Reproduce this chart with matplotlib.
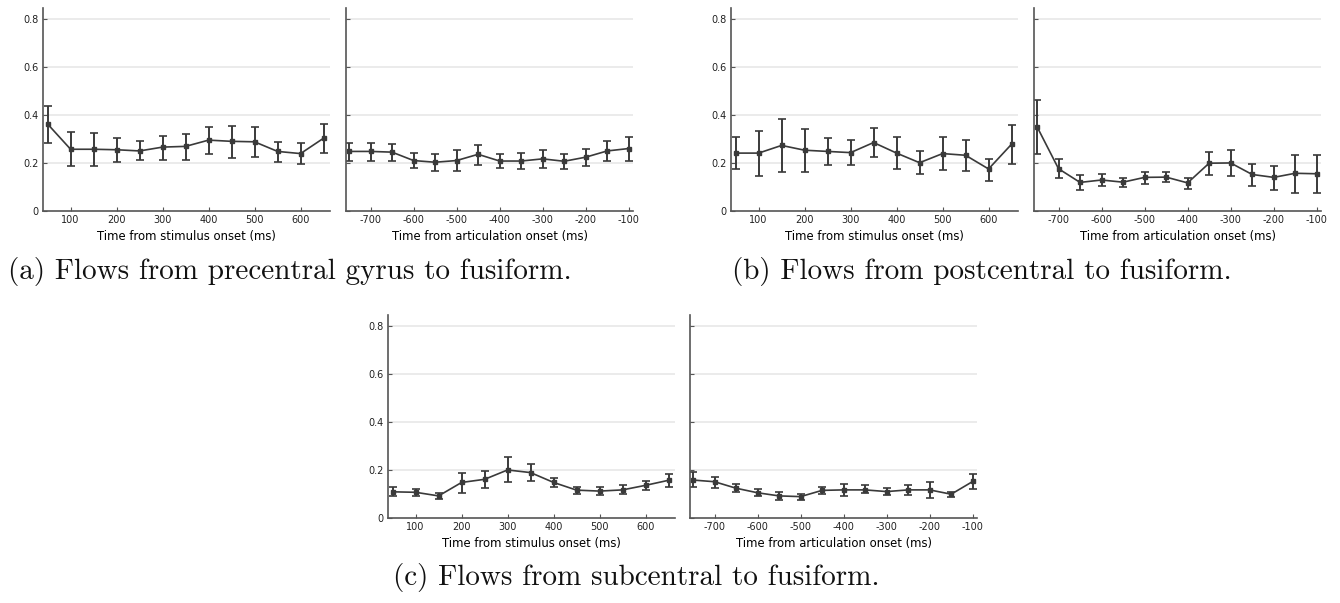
import matplotlib
matplotlib.use("Agg")
import matplotlib.pyplot as plt
import numpy as np

# x positions (ms)
stim_t = [50, 100, 150, 200, 250, 300, 350, 400, 450, 500, 550, 600, 650]
artic_t = [-750, -700, -650, -600, -550, -500, -450, -400, -350, -300, -250, -200, -150, -100]

# (a) precentral gyrus -> fusiform
a_stim = [0.362, 0.257, 0.257, 0.255, 0.250, 0.266, 0.269, 0.295, 0.290, 0.288, 0.248, 0.239, 0.303]
a_stim_hi = [0.436, 0.329, 0.324, 0.305, 0.290, 0.313, 0.319, 0.351, 0.355, 0.350, 0.287, 0.281, 0.364]
a_stim_lo = [0.283, 0.187, 0.189, 0.206, 0.213, 0.214, 0.213, 0.236, 0.222, 0.224, 0.204, 0.196, 0.243]
a_artic = [0.248, 0.248, 0.245, 0.210, 0.203, 0.210, 0.236, 0.208, 0.208, 0.217, 0.207, 0.224, 0.250, 0.260]
a_artic_hi = [0.285, 0.283, 0.278, 0.241, 0.238, 0.252, 0.276, 0.236, 0.241, 0.252, 0.238, 0.256, 0.290, 0.308]
a_artic_lo = [0.207, 0.208, 0.207, 0.179, 0.166, 0.166, 0.193, 0.180, 0.176, 0.180, 0.173, 0.189, 0.207, 0.207]

# (b) postcentral -> fusiform
b_stim = [0.241, 0.241, 0.273, 0.253, 0.248, 0.243, 0.285, 0.241, 0.201, 0.239, 0.232, 0.175, 0.278]
b_stim_hi = [0.309, 0.333, 0.383, 0.341, 0.303, 0.295, 0.345, 0.306, 0.249, 0.308, 0.295, 0.218, 0.357]
b_stim_lo = [0.175, 0.147, 0.161, 0.161, 0.190, 0.190, 0.224, 0.175, 0.154, 0.171, 0.165, 0.124, 0.196]
b_artic = [0.351, 0.176, 0.119, 0.129, 0.120, 0.140, 0.141, 0.117, 0.199, 0.200, 0.152, 0.140, 0.157, 0.155]
b_artic_hi = [0.464, 0.217, 0.151, 0.155, 0.138, 0.164, 0.161, 0.138, 0.246, 0.253, 0.197, 0.189, 0.232, 0.232]
b_artic_lo = [0.238, 0.136, 0.088, 0.103, 0.099, 0.113, 0.120, 0.091, 0.148, 0.147, 0.106, 0.087, 0.077, 0.076]

# (c) subcentral -> fusiform
c_stim = [0.109, 0.107, 0.092, 0.148, 0.161, 0.200, 0.189, 0.148, 0.116, 0.112, 0.117, 0.136, 0.157]
c_stim_hi = [0.128, 0.122, 0.103, 0.189, 0.194, 0.252, 0.224, 0.168, 0.131, 0.128, 0.136, 0.155, 0.185]
c_stim_lo = [0.092, 0.092, 0.081, 0.106, 0.126, 0.148, 0.152, 0.129, 0.098, 0.096, 0.099, 0.116, 0.131]
c_artic = [0.158, 0.151, 0.124, 0.105, 0.092, 0.089, 0.115, 0.117, 0.117, 0.110, 0.117, 0.117, 0.099, 0.152]
c_artic_hi = [0.190, 0.170, 0.140, 0.119, 0.109, 0.101, 0.131, 0.140, 0.136, 0.126, 0.138, 0.148, 0.110, 0.182]
c_artic_lo = [0.128, 0.126, 0.110, 0.092, 0.075, 0.074, 0.098, 0.093, 0.102, 0.095, 0.096, 0.082, 0.087, 0.122]

captions = ["(a) Flows from precentral gyrus to fusiform.",
            "(b) Flows from postcentral to fusiform.",
            "(c) Flows from subcentral to fusiform."]

stim_ticks = [100, 200, 300, 400, 500, 600]
artic_ticks = [-700, -600, -500, -400, -300, -200, -100]
y_ticks = [0, 0.2, 0.4, 0.6, 0.8]
y_labels = ["0", "0.2", "0.4", "0.6", "0.8"]

W, H = 1340, 603
fig = plt.figure(figsize=(W / 100, H / 100), dpi=100)

line_col = "#3a3a3a"
axw = 287 / W
axh = 203 / H


def panel(left_px, bottom_px, t, y, hi, lo, stim):
	ax = fig.add_axes([left_px / W, 1 - bottom_px / H, axw, axh])
	y = np.array(y)
	yerr = [y - np.array(lo), np.array(hi) - y]
	ax.errorbar(t, y, yerr=yerr, color=line_col, lw=1.2, marker="s", ms=3,
		capsize=3, elinewidth=1.4, capthick=1.2)
	ax.set_ylim(0, 0.845)
	ax.set_yticks(y_ticks)
	for g in y_ticks[1:]:
		ax.axhline(g, color="#e8e8e8", lw=1.2, zorder=0)
	if stim:
		ax.set_xlim(40, 664)
		ax.set_xticks(stim_ticks)
		ax.set_xticklabels([str(v) for v in stim_ticks])
		ax.set_yticklabels(y_labels)
		ax.set_xlabel("Time from stimulus onset (ms)", fontsize=8.4, labelpad=3.5)
	else:
		ax.set_xlim(-757, -90)
		ax.set_xticks(artic_ticks)
		ax.set_xticklabels([str(v) for v in artic_ticks])
		ax.set_yticklabels([])
		ax.set_xlabel("Time from articulation onset (ms)", fontsize=8.4, labelpad=3.5)
	for s in ["top", "right"]:
		ax.spines[s].set_visible(False)
	for s in ["left", "bottom"]:
		ax.spines[s].set_color("#555555")
		ax.spines[s].set_linewidth(1.2)
	ax.tick_params(direction="in", length=3, width=0.8, color="#555555",
		labelsize=7, labelcolor="#222222", pad=3)
	return ax


panel(43, 211, stim_t, a_stim, a_stim_hi, a_stim_lo, True)
panel(346, 211, artic_t, a_artic, a_artic_hi, a_artic_lo, False)
panel(731, 211, stim_t, b_stim, b_stim_hi, b_stim_lo, True)
panel(1034, 211, artic_t, b_artic, b_artic_hi, b_artic_lo, False)
panel(388, 518, stim_t, c_stim, c_stim_hi, c_stim_lo, True)
panel(690, 518, artic_t, c_artic, c_artic_hi, c_artic_lo, False)

cap_kw = dict(fontsize=21, family="cmr10", va="center", ha="left", color="#111111")
fig.text(8 / W, 1 - 271 / H, captions[0], **cap_kw)
fig.text(732 / W, 1 - 271 / H, captions[1], **cap_kw)
fig.text(393 / W, 1 - 577 / H, captions[2], **cap_kw)

fig.savefig("out.png", dpi=100)
